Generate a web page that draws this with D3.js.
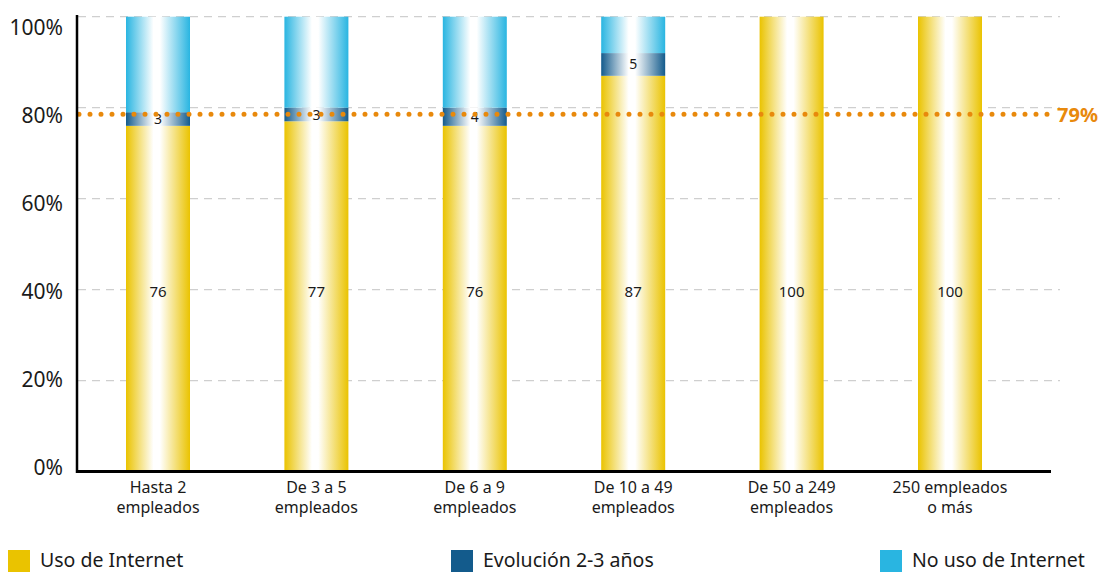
<!DOCTYPE html>
<html>
<head>
<meta charset="utf-8">
<script src="https://cdn.jsdelivr.net/npm/d3@7"></script>
<style>
  html, body { margin: 0; padding: 0; background: #fff; }
  svg { display: block; font-family: "Noto Sans", "Open Sans", sans-serif; }
</style>
</head>
<body>
<svg id="chart" width="1101" height="572"></svg>
<script>
// ---- data ----
const categories = [
  ["Hasta 2", "empleados"],
  ["De 3 a 5", "empleados"],
  ["De 6 a 9", "empleados"],
  ["De 10 a 49", "empleados"],
  ["De 50 a 249", "empleados"],
  ["250 empleados", "o más"]
];
const usoInternet = [76, 77, 76, 87, 100, 100];
const evolucion = [3, 3, 4, 5, 0, 0];
const noUso = [21, 20, 20, 8, 0, 0];
const referenceValue = 79;
const yTicks = [0, 20, 40, 60, 80, 100];
const seriesNames = ["Uso de Internet", "Evolución 2-3 años", "No uso de Internet"];
const seriesColors = ["#EAC300", "#135B8C", "#29B5E1"];

// ---- layout ----
const svg = d3.select("#chart");
const y = d3.scaleLinear().domain([0, 100]).range([471.5, 16.7]);
const yLabel = d3.scaleLinear().domain([0, 100]).range([467, 27]);
const x = d3.scaleBand()
  .domain(categories.map((d, i) => i))
  .range([78.8, 1029.2])
  .paddingInner(0.596)
  .paddingOuter(0.298);

// gradients
const defs = svg.append("defs");
seriesColors.forEach((c, i) => {
  const g = defs.append("linearGradient").attr("id", "grad" + i)
    .attr("x1", "0%").attr("x2", "100%").attr("y1", "0%").attr("y2", "0%");
  g.append("stop").attr("offset", "0%").attr("stop-color", c);
  g.append("stop").attr("offset", "43%").attr("stop-color", "#ffffff");
  g.append("stop").attr("offset", "53%").attr("stop-color", "#ffffff");
  g.append("stop").attr("offset", "100%").attr("stop-color", c);
});

// gridlines
svg.append("g")
  .selectAll("line")
  .data(yTicks.filter(t => t > 0))
  .join("line")
  .attr("x1", 78).attr("x2", 1060)
  .attr("y1", d => y(d)).attr("y2", d => y(d))
  .attr("stroke", "#cfcfcf")
  .attr("stroke-width", 1.3)
  .attr("stroke-dasharray", "8,6");

// stacked bars
const stackData = categories.map((c, i) => ({ i, v: [usoInternet[i], evolucion[i], noUso[i]] }));
const bars = svg.append("g");
stackData.forEach(d => {
  let base = 0;
  d.v.forEach((val, s) => {
    if (val > 0) {
      bars.append("rect")
        .attr("x", x(d.i))
        .attr("width", x.bandwidth())
        .attr("y", y(base + val))
        .attr("height", y(base) - y(base + val))
        .attr("fill", "url(#grad" + s + ")");
    }
    base += val;
  });
});

// value labels: uso de internet
svg.append("g")
  .selectAll("text")
  .data(usoInternet)
  .join("text")
  .attr("x", (d, i) => x(i) + x.bandwidth() / 2)
  .attr("y", y(39.5))
  .attr("dy", "0.35em")
  .attr("text-anchor", "middle")
  .attr("font-size", 15)
  .attr("fill", "#1a1a1a")
  .text(d => d);

// value labels: evolución
svg.append("g")
  .selectAll("text")
  .data(evolucion.map((v, i) => ({ v, i })).filter(d => d.v > 0))
  .join("text")
  .attr("x", d => x(d.i) + x.bandwidth() / 2)
  .attr("y", d => y(usoInternet[d.i] + d.v / 2))
  .attr("dy", "0.36em")
  .attr("text-anchor", "middle")
  .attr("font-size", 14)
  .attr("fill", "#1a1a1a")
  .text(d => d.v);

// reference dotted line
svg.append("line")
  .attr("x1", 79).attr("x2", 1056)
  .attr("y1", y(referenceValue) + 2).attr("y2", y(referenceValue) + 2)
  .attr("stroke", "#E8890C")
  .attr("stroke-width", 5)
  .attr("stroke-linecap", "round")
  .attr("stroke-dasharray", "0,11");
svg.append("text")
  .attr("x", 1057)
  .attr("y", y(referenceValue) + 3)
  .attr("dy", "0.36em")
  .attr("font-size", 20)
  .attr("font-weight", "bold")
  .attr("fill", "#E8890C")
  .text(referenceValue + "%");

// axes lines
svg.append("line")
  .attr("x1", 77).attr("x2", 77)
  .attr("y1", 15).attr("y2", y(0) + 1.5)
  .attr("stroke", "#000").attr("stroke-width", 2.5);
svg.append("line")
  .attr("x1", 76).attr("x2", 1051)
  .attr("y1", y(0)).attr("y2", y(0))
  .attr("stroke", "#000").attr("stroke-width", 3);

// y tick labels
svg.append("g")
  .selectAll("text")
  .data(yTicks)
  .join("text")
  .attr("x", 63)
  .attr("y", d => yLabel(d))
  .attr("dy", "0.36em")
  .attr("text-anchor", "end")
  .attr("font-size", 21)
  .attr("fill", "#1a1a1a")
  .text(d => d + "%");

// x category labels (one text per line)
categories.forEach((d, i) => {
  d.forEach((line, k) => {
    svg.append("text")
      .attr("x", x(i) + x.bandwidth() / 2)
      .attr("y", 493 + k * 20)
      .attr("text-anchor", "middle")
      .attr("font-size", 16)
      .attr("fill", "#1a1a1a")
      .text(line);
  });
});

// legend
const legendX = [8, 451, 880];
const lg = svg.append("g");
seriesNames.forEach((name, i) => {
  lg.append("rect")
    .attr("x", legendX[i]).attr("y", 550)
    .attr("width", 22).attr("height", 22)
    .attr("fill", seriesColors[i]);
  lg.append("text")
    .attr("x", legendX[i] + 32)
    .attr("y", 567)
    .attr("font-size", 19.5)
    .attr("fill", "#1a1a1a")
    .text(name);
});
</script>
</body>
</html>
